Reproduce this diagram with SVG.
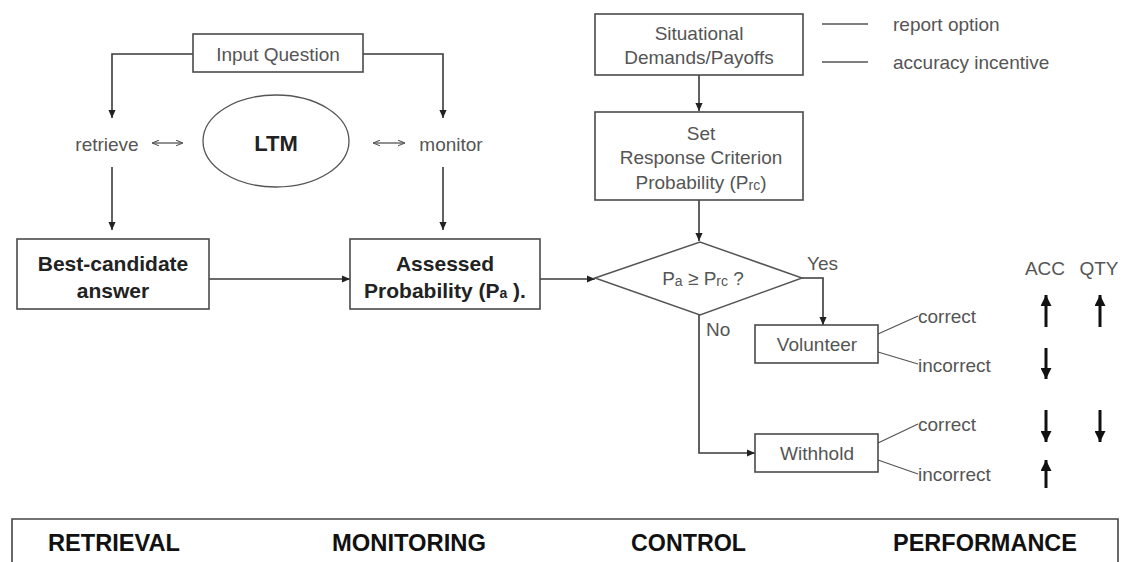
<svg xmlns="http://www.w3.org/2000/svg" width="1131" height="562" viewBox="0 0 1131 562">
<style>
.box{fill:#fff;stroke:#4a4a4a;stroke-width:1.6}
.ln{fill:none;stroke:#3a3a3a;stroke-width:1.6}
.t{font-family:"Liberation Sans",Arial,sans-serif;font-size:19px;fill:#555;text-anchor:middle;dominant-baseline:central}
.tl{font-family:"Liberation Sans",Arial,sans-serif;font-size:19px;fill:#555;text-anchor:start;dominant-baseline:central}
.b{font-family:"Liberation Sans",Arial,sans-serif;font-size:21px;font-weight:bold;fill:#222;text-anchor:middle;dominant-baseline:central}
.h{font-family:"Liberation Sans",Arial,sans-serif;font-size:24px;font-weight:bold;fill:#111;text-anchor:start}
.big{fill:none;stroke:#111;stroke-width:3}
</style>
<defs>
<marker id="ah" viewBox="0 0 10 10" refX="10" refY="5" markerWidth="9" markerHeight="8" markerUnits="userSpaceOnUse" orient="auto"><path d="M0,0.5 L10,5 L0,9.5 z" fill="#222"/></marker>
<marker id="sm" viewBox="0 0 10 10" refX="10" refY="5" markerWidth="7" markerHeight="7" markerUnits="userSpaceOnUse" orient="auto-start-reverse"><path d="M0,1 L10,5 L0,9" fill="none" stroke="#555" stroke-width="1.6"/></marker>
<marker id="th" viewBox="0 0 10 10" refX="10" refY="5" markerWidth="12" markerHeight="11" markerUnits="userSpaceOnUse" orient="auto"><path d="M0,0 L10,5 L0,10 z" fill="#111"/></marker>
</defs>

<g id="connectors">
<path class="ln" d="M193,54 H112 V118" marker-end="url(#ah)"/>
<path class="ln" d="M363,54 H443 V118" marker-end="url(#ah)"/>
<path class="ln" d="M112,167 V230" marker-end="url(#ah)"/>
<path class="ln" d="M443,167 V230" marker-end="url(#ah)"/>
<path class="ln" d="M152,143 H183" marker-start="url(#sm)" marker-end="url(#sm)" style="stroke:#555;stroke-width:1.3"/>
<path class="ln" d="M373,143 H405" marker-start="url(#sm)" marker-end="url(#sm)" style="stroke:#555;stroke-width:1.3"/>
<path class="ln" d="M209,279 H350" marker-end="url(#ah)"/>
<path class="ln" d="M540,279 H595" marker-end="url(#ah)"/>
<path class="ln" d="M699,75 V111" marker-end="url(#ah)"/>
<path class="ln" d="M699,200 V241" marker-end="url(#ah)"/>
<path class="ln" d="M802,278 H823 V325" marker-end="url(#ah)"/>
<path class="ln" d="M699,315 V453 H755" marker-end="url(#ah)"/>
<path class="ln" d="M822,24 H868 M822,62 H868" style="stroke:#555;stroke-width:1.4"/>
<path class="ln" d="M878,334 L918,316 M878,352 L918,364 M878,443 L918,424 M878,460 L918,474" style="stroke:#555;stroke-width:1.3"/>
</g>

<g id="input-question">
<rect class="box" x="193" y="34" width="170" height="38"/>
<text class="t" x="278" y="54">Input Question</text>
</g>

<g id="retrieve"><text class="t" x="107" y="144">retrieve</text></g>

<g id="ltm">
<ellipse cx="276" cy="141" rx="73" ry="46" fill="#fff" stroke="#555" stroke-width="1.3"/>
<text class="b" x="276" y="143" style="font-size:22px">LTM</text>
</g>

<g id="monitor"><text class="t" x="451" y="144">monitor</text></g>

<g id="best-candidate">
<rect class="box" x="17" y="239" width="192" height="70"/>
<text class="b" x="113" y="263">Best-candidate</text>
<text class="b" x="113" y="290">answer</text>
</g>

<g id="assessed">
<rect class="box" x="350" y="239" width="190" height="70"/>
<text class="b" x="445" y="263">Assessed</text>
<text class="b" x="445" y="290">Probability (P<tspan style="font-size:14px" dy="3">a</tspan><tspan dy="-3"> ).</tspan></text>
</g>

<g id="situational">
<rect class="box" x="595" y="14" width="208" height="61"/>
<text class="t" x="699" y="33">Situational</text>
<text class="t" x="699" y="57">Demands/Payoffs</text>
</g>

<g id="legend">
<text class="tl" x="893" y="24">report option</text>
<text class="tl" x="893" y="62">accuracy incentive</text>
</g>

<g id="set-criterion">
<rect class="box" x="595" y="112" width="208" height="88"/>
<text class="t" x="701" y="133">Set</text>
<text class="t" x="701" y="157">Response Criterion</text>
<text class="t" x="701" y="182">Probability (P<tspan style="font-size:14px" dy="3">rc</tspan><tspan dy="-3">)</tspan></text>
</g>

<g id="decision">
<path d="M595,278 L700,242 L802,278 L700,315 Z" fill="#fff" stroke="#555" stroke-width="1.5"/>
<text class="t" x="703" y="278">P<tspan style="font-size:14px" dy="3">a</tspan><tspan dy="-3"> ≥ P</tspan><tspan style="font-size:14px" dy="3">rc</tspan><tspan dy="-3"> ?</tspan></text>
<text class="tl" x="807" y="263">Yes</text>
<text class="tl" x="706" y="329">No</text>
</g>

<g id="volunteer">
<rect class="box" x="755" y="325" width="123" height="38"/>
<text class="t" x="817" y="344">Volunteer</text>
<text class="tl" x="918" y="316">correct</text>
<text class="tl" x="918" y="365">incorrect</text>
</g>

<g id="withhold">
<rect class="box" x="755" y="434" width="123" height="38"/>
<text class="t" x="817" y="453">Withhold</text>
<text class="tl" x="918" y="424">correct</text>
<text class="tl" x="918" y="474">incorrect</text>
</g>

<g id="performance">
<text class="t" x="1045" y="268">ACC</text>
<text class="t" x="1099" y="268">QTY</text>
<line class="big" x1="1046" y1="327" x2="1046" y2="295" marker-end="url(#th)"/>
<line class="big" x1="1100" y1="327" x2="1100" y2="295" marker-end="url(#th)"/>
<line class="big" x1="1046" y1="348" x2="1046" y2="379" marker-end="url(#th)"/>
<line class="big" x1="1046" y1="410" x2="1046" y2="442" marker-end="url(#th)"/>
<line class="big" x1="1100" y1="410" x2="1100" y2="442" marker-end="url(#th)"/>
<line class="big" x1="1046" y1="488" x2="1046" y2="460" marker-end="url(#th)"/>
</g>

<g id="stages">
<path d="M12,562 V519 H1118 V562" fill="none" stroke="#444" stroke-width="1.6"/>
<text class="h" x="48" y="551" textLength="132" lengthAdjust="spacingAndGlyphs">RETRIEVAL</text>
<text class="h" x="332" y="551" textLength="154" lengthAdjust="spacingAndGlyphs">MONITORING</text>
<text class="h" x="631" y="551" textLength="115" lengthAdjust="spacingAndGlyphs">CONTROL</text>
<text class="h" x="893" y="551" textLength="184" lengthAdjust="spacingAndGlyphs">PERFORMANCE</text>
</g>
</svg>
